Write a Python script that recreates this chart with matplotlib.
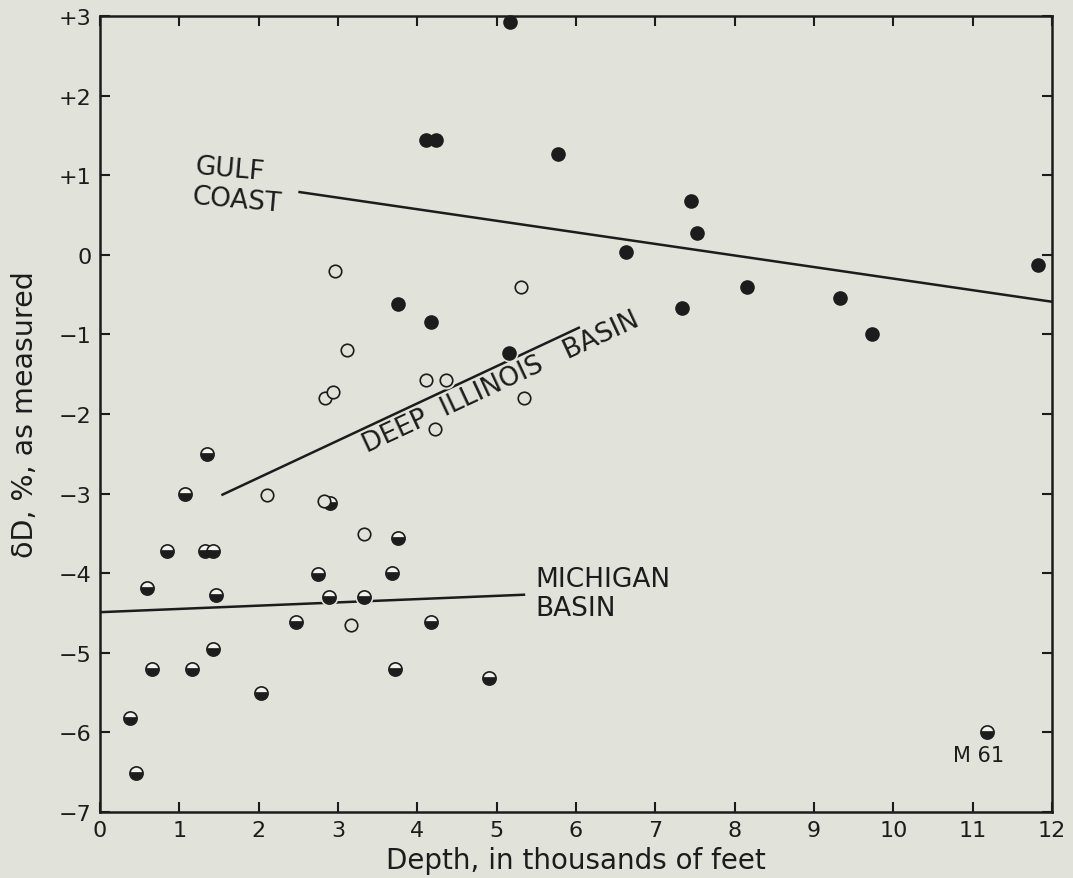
import numpy as np
import matplotlib
matplotlib.use("Agg")
import matplotlib.pyplot as plt
from matplotlib.path import Path

# Gulf Coast samples (solid dots)
gulf_x = [5.17, 4.11, 4.23, 5.77, 7.45, 7.53, 6.63, 8.15, 7.34, 3.76, 4.17, 5.15, 9.33, 9.73, 11.82]
gulf_y = [2.93, 1.44, 1.44, 1.26, 0.67, 0.27, 0.03, -0.41, -0.67, -0.62, -0.85, -1.24, -0.54, -1.00, -0.13]

# Deep Illinois Basin samples (open circles)
illinois_x = [2.96, 5.31, 3.11, 2.84, 2.94, 4.11, 4.36, 4.22, 5.35, 2.11, 2.82, 3.33, 3.16]
illinois_y = [-0.20, -0.40, -1.20, -1.80, -1.73, -1.57, -1.57, -2.19, -1.80, -3.02, -3.09, -3.51, -4.65]

# Michigan Basin samples (half filled)
michigan_x = [1.35, 1.07, 0.85, 1.32, 1.43, 0.59, 1.46, 2.75, 2.90, 2.89, 3.33, 3.68, 3.76, 2.47,
              1.43, 0.65, 1.16, 2.03, 3.72, 0.38, 0.46, 4.17, 4.90, 11.18]
michigan_y = [-2.50, -3.01, -3.72, -3.72, -3.72, -4.19, -4.27, -4.01, -3.12, -4.30, -4.30, -4.00, -3.56, -4.61,
              -4.95, -5.21, -5.21, -5.50, -5.20, -5.82, -6.51, -4.61, -5.32, -5.99]

# trend lines (end points)
gulf_line_x = [2.5, 12.0]
gulf_line_y = [0.79, -0.59]
illinois_line_x = [1.53, 6.05]
illinois_line_y = [-3.02, -0.91]
michigan_line_x = [0.0, 5.36]
michigan_line_y = [-4.49, -4.27]

x_ticks = list(range(0, 13))
y_ticks = list(range(-7, 4))
y_labels = ["\u22127", "\u22126", "\u22125", "\u22124", "\u22123", "\u22122", "\u22121", "0", "+1", "+2", "+3"]

bg = "#e1e2da"
ink = "#1c1c1c"

plt.rcParams["font.family"] = ["DejaVu Sans"]

# lower part of a circle, cut a bit above the centre -> "half filled" symbol
c = 0.2
a0 = np.arcsin(c)
th = np.linspace(np.pi - a0, 2 * np.pi + a0, 40)
seg = np.column_stack([np.cos(th), np.sin(th)])
seg = np.vstack([seg, seg[:1]])
seg_marker = Path(seg, closed=True)

fig = plt.figure(figsize=(10.73, 8.79), dpi=100, facecolor=bg)
ax = fig.add_axes([0.0932, 0.0751, 0.8872, 0.9056], facecolor=bg)

for xs, ys in [(gulf_line_x, gulf_line_y), (illinois_line_x, illinois_line_y), (michigan_line_x, michigan_line_y)]:
    ax.plot(xs, ys, color=ink, lw=1.8, zorder=1, solid_capstyle="butt")

# small halo so lines break around the dots
ax.plot(gulf_x + illinois_x + michigan_x, gulf_y + illinois_y + michigan_y, "o", ls="none",
        ms=12, color=bg, mec=bg, zorder=2, clip_on=False)

ax.plot(michigan_x, michigan_y, "o", ls="none", ms=9.5, mfc="#f2f2ec", mec=ink, mew=1.2,
        zorder=3, clip_on=False)
ax.plot(michigan_x, michigan_y, marker=seg_marker, ls="none", ms=9.0, mfc=ink, mec=ink, mew=0.3,
        zorder=3, clip_on=False)
ax.plot(gulf_x, gulf_y, "o", ls="none", ms=9.5, mfc=ink, mec=ink, zorder=3, clip_on=False)
ax.plot(illinois_x, illinois_y, "o", ls="none", ms=9, mfc=bg, mec=ink, mew=1.2, zorder=4, clip_on=False)

ax.set_xlim(0, 12)
ax.set_ylim(-7, 3)
ax.set_xticks(x_ticks)
ax.set_yticks(y_ticks)
ax.set_yticklabels(y_labels)
ax.tick_params(direction="in", length=7, width=1.5, colors=ink, labelsize=16,
               top=True, right=True, pad=6)
for s in ax.spines.values():
    s.set_linewidth(1.8)
    s.set_color(ink)

ax.set_xlabel("Depth, in thousands of feet", fontsize=20, color=ink, labelpad=4)
ax.set_ylabel("\u03b4D, %, as measured", fontsize=20.5, color=ink, labelpad=14)

ax.text(1.74, 0.88, "GULF\nCOAST", fontsize=19, color=ink, rotation=-5,
        ha="center", va="center", multialignment="left")
ax.text(5.05, -1.6, "DEEP  ILLINOIS   BASIN", fontsize=19, color=ink, rotation=25,
        ha="center", va="center")
ax.text(5.49, -4.26, "MICHIGAN\nBASIN", fontsize=19, color=ink, ha="left", va="center",
        linespacing=1.15)
ax.text(11.07, -6.29, "M 61", fontsize=15, color=ink, ha="center", va="center")

fig.savefig("out.png", dpi=100, facecolor=bg)
